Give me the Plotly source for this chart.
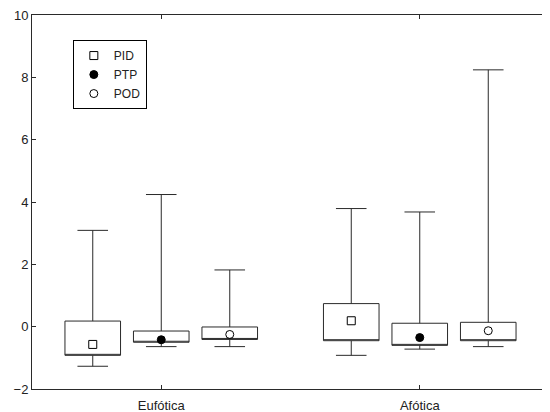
import plotly.graph_objects as go

categories = ["Eufótica", "Afótica"]
series = ["PID", "PTP", "POD"]

# per series: values for [Eufótica, Afótica]
upper = {"PID": [3.09, 3.79], "PTP": [4.24, 3.68], "POD": [1.82, 8.24]}
q3 = {"PID": [0.18, 0.74], "PTP": [-0.14, 0.11], "POD": [-0.01, 0.14]}
q1 = {"PID": [-0.92, -0.45], "PTP": [-0.50, -0.60], "POD": [-0.41, -0.45]}
lower = {"PID": [-1.27, -0.92], "PTP": [-0.64, -0.72], "POD": [-0.64, -0.64]}
center = {"PID": [-0.57, 0.19], "PTP": [-0.42, -0.35], "POD": [-0.25, -0.13]}

symbols = {"PID": "square-open", "PTP": "circle", "POD": "circle-open"}
offsets = {"PID": -0.265, "PTP": 0.0, "POD": 0.265}
line_c = "#2a2a2a"

fig = go.Figure()
for s in series:
    xs = [i + offsets[s] for i in range(len(categories))]
    fig.add_trace(go.Box(
        x=xs, q1=q1[s], median=q1[s], q3=q3[s],
        lowerfence=lower[s], upperfence=upper[s],
        width=0.215, whiskerwidth=0.55,
        fillcolor="white", line=dict(color=line_c, width=1),
        showlegend=False, hoverinfo="skip", boxpoints=False,
    ))
for s in series:
    xs = [i + offsets[s] for i in range(len(categories))]
    fig.add_trace(go.Scatter(
        x=xs, y=center[s], mode="markers", name=s,
        marker=dict(symbol=symbols[s], size=8, color="black",
                    line=dict(color="black", width=1)),
    ))

fig.update_layout(
    width=542, height=404,
    margin=dict(l=24, r=1, t=7, b=23, autoexpand=False),
    paper_bgcolor="white", plot_bgcolor="white",
    font=dict(family="Liberation Sans, Arial, sans-serif", size=13, color="#222"),
    showlegend=True,
    legend=dict(x=0.079, y=0.933, xanchor="left", yanchor="top",
                bordercolor="black", borderwidth=1, bgcolor="white",
                font=dict(size=12), itemwidth=30, tracegroupgap=0),
)
fig.update_xaxes(
    range=[-0.5, 1.5], tickvals=[0, 1], ticktext=categories,
    showline=True, linecolor=line_c, linewidth=1, mirror="ticks",
    ticks="inside", ticklen=4, tickcolor=line_c, showgrid=False, zeroline=False,
    automargin=False, ticklabelstandoff=4, ticklabeloverflow="allow",
)
fig.update_yaxes(
    range=[-2, 10], tickvals=[-2, 0, 2, 4, 6, 8, 10],
    showline=True, linecolor=line_c, linewidth=1, mirror="ticks",
    ticks="inside", ticklen=4, tickcolor=line_c, showgrid=False, zeroline=False,
    automargin=False, ticklabeloverflow="allow",
)
fig.write_html("out.html")
